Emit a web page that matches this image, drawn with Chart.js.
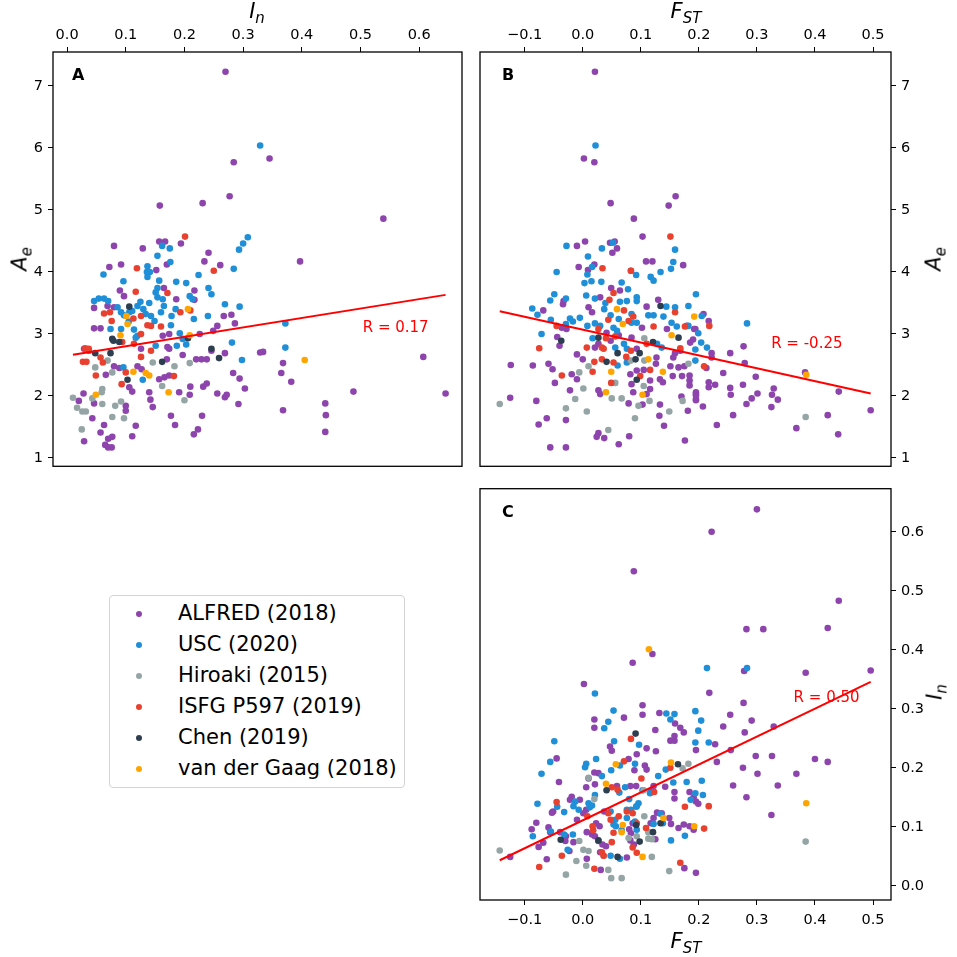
<!DOCTYPE html>
<html>
<head>
<meta charset="utf-8">
<script src="https://cdn.jsdelivr.net/npm/chart.js@4.4.1/dist/chart.umd.min.js"></script>
<style>
  html, body { margin: 0; padding: 0; background: #fff; }
  body { width: 957px; height: 957px; position: relative; overflow: hidden; font-family: "DejaVu Sans", sans-serif; }
  canvas { position: absolute; }
  .atitle { position: absolute; font-style: italic; font-size: 21px; color: #000; white-space: nowrap; transform: translate(-50%, -50%); line-height: 1; }
  .atitle sub { font-size: 15px; vertical-align: -5px; }
  .atitle.rot { transform: translate(-50%, -50%) rotate(-90deg); }
  #legend { position: absolute; left: 109px; top: 595px; width: 294px; height: 191px; border: 1px solid #d4d4d4; border-radius: 4px; background: #fff; }
  .lrow { position: absolute; left: 0; height: 31px; line-height: 31px; font-size: 21px; color: #000; white-space: nowrap; }
  .ldot { position: absolute; left: 26px; top: 13px; width: 6px; height: 6px; border-radius: 50%; }
  .ltext { position: absolute; left: 68px; top: 0; }
</style>
</head>
<body>
<canvas id="chartA" width="480" height="480" style="left:0;top:0;width:480px;height:480px"></canvas>
<canvas id="chartB" width="487" height="480" style="left:470px;top:0;width:487px;height:480px"></canvas>
<canvas id="chartC" width="487" height="482" style="left:470px;top:475px;width:487px;height:482px"></canvas>

<div class="atitle" style="left:257px;top:13px"><span>I</span><sub>n</sub></div>
<div class="atitle" style="left:686px;top:13px"><span>F</span><sub>ST</sub></div>
<div class="atitle rot" style="left:22px;top:259px"><span>A</span><sub>e</sub></div>
<div class="atitle rot" style="left:936px;top:259px"><span>A</span><sub>e</sub></div>
<div class="atitle" style="left:686px;top:943px"><span>F</span><sub>ST</sub></div>
<div class="atitle rot" style="left:937px;top:692px"><span>I</span><sub>n</sub></div>
<div id="legend"></div>

<script>
// Series (legend order) and colours
const seriesNames = ['ALFRED (2018)', 'USC (2020)', 'Hiroaki (2015)', 'ISFG P597 (2019)', 'Chen (2019)', 'van der Gaag (2018)'];
const seriesColors = ['#8e44ad', '#1f8fd8', '#95a5a6', '#e8412f', '#2c3e50', '#ffa500'];

// Tick labels
const inTicks = [0, 0.1, 0.2, 0.3, 0.4, 0.5, 0.6];
const fstTicks = [-0.1, 0, 0.1, 0.2, 0.3, 0.4, 0.5];
const aeTicks = [1, 2, 3, 4, 5, 6, 7];

// Axis limits
const inRange = [-0.024, 0.673];
const fstRange = [-0.177, 0.531];
const aeRange = [0.865, 7.548];

// Panel A: [In, Ae]
const alfredA = [[0.270,7.23],[0.345,5.83],[0.284,5.77],[0.277,5.22],[0.231,5.11],[0.158,5.07],[0.157,4.49],[0.167,4.49],[0.194,4.46],[0.080,4.42],[0.129,4.38],[0.241,4.31],[0.234,4.17],[0.261,4.11],[0.170,4.12],[0.092,4.12],[0.072,4.08],[0.152,4.03],[0.165,3.74],[0.090,3.70],
  [0.217,3.70],[0.186,3.56],[0.217,3.55],[0.097,3.61],[0.069,3.45],[0.080,3.43],[0.267,3.29],[0.280,3.31],[0.286,3.17],[0.256,3.13],[0.046,3.42],[0.046,3.09],[0.057,3.09],[0.163,2.97],[0.174,3.00],[0.226,3.00],[0.249,3.05],[0.126,2.76],[0.171,2.79],[0.174,2.76],[0.197,2.66],[0.246,2.73],[0.269,2.69],[0.329,2.70],[0.029,2.76],[0.037,2.73],[0.170,2.59],[0.220,2.59],[0.229,2.59],[0.238,2.59],[0.080,2.48],[0.089,2.45],[0.120,2.48],[0.127,2.43],[0.066,2.34],[0.283,2.37],[0.294,2.28],[0.303,2.12],[0.157,2.27],[0.166,2.30],[0.174,2.33],[0.106,2.14],[0.111,2.07],[0.028,2.04],[0.020,1.92],[0.046,1.88],[0.100,1.84],[0.100,1.76],[0.140,2.06],[0.142,1.94],[0.146,1.82],[0.191,2.06],[0.209,2.02],[0.210,2.15],[0.232,2.15],[0.238,2.20],[0.256,2.04],[0.269,1.98],[0.272,2.02],[0.292,1.87],[0.043,1.64],[0.177,1.68],[0.230,1.68],[0.063,1.53],[0.117,1.52],[0.184,1.53],[0.057,1.41],[0.223,1.46],[0.216,1.38],[0.077,1.34],[0.070,1.31],[0.111,1.35],[0.029,1.27],[0.065,1.21],[0.070,1.17],[0.076,1.17],
  [0.539,4.86],[0.397,4.17],[0.368,2.53],[0.365,2.37],[0.382,2.23],[0.607,2.63],[0.488,2.07],[0.645,2.04],[0.368,1.77],[0.440,1.88],[0.441,1.69],[0.440,1.42],[0.334,2.71]];
const uscA = [[0.329,6.04],[0.308,4.56],[0.300,4.46],[0.293,4.36],[0.162,4.42],[0.175,4.38],[0.154,4.26],[0.176,4.16],[0.137,4.09],[0.284,4.05],[0.062,3.96],[0.136,4.00],[0.141,4.00],[0.137,3.92],[0.224,3.95],[0.096,3.85],[0.157,3.86],[0.186,3.84],[0.203,3.82],[0.154,3.74],[0.241,3.74],
  [0.151,3.67],[0.154,3.59],[0.163,3.56],[0.209,3.61],[0.214,3.56],[0.246,3.64],[0.046,3.53],[0.054,3.57],[0.063,3.57],[0.070,3.53],[0.269,3.48],[0.294,3.44],[0.086,3.43],[0.092,3.35],[0.097,3.30],[0.106,3.35],[0.111,3.37],[0.134,3.32],[0.143,3.29],[0.149,3.21],[0.160,3.35],[0.178,3.29],[0.216,3.24],[0.240,3.29],[0.074,3.08],[0.092,3.08],[0.114,3.07],[0.120,2.97],[0.151,2.81],[0.177,3.14],[0.192,3.01],[0.197,2.92],[0.203,2.83],[0.117,2.94],[0.187,2.81],[0.281,2.86],[0.298,2.58],[0.096,2.46],[0.129,2.26],
  [0.120,3.45],[0.125,3.52],[0.130,3.40],[0.105,3.20],[0.165,3.45],[0.185,3.40],[0.140,3.50],[0.372,3.17],[0.372,2.78]];
const hiroakiA = [[0.048,2.46],[0.069,2.57],[0.146,2.54],[0.183,2.48],[0.209,2.53],[0.077,2.38],[0.060,2.11],[0.059,2.06],[0.043,1.96],[0.010,1.97],[0.017,1.81],[0.026,1.75],[0.032,1.75],[0.060,1.87],[0.082,1.84],[0.092,1.91],[0.162,2.16],[0.200,1.93],[0.077,1.66],[0.097,1.64],[0.025,1.46]];
const isfgA = [[0.201,4.57],[0.119,4.06],[0.250,4.02],[0.117,3.68],[0.171,3.66],[0.063,3.33],[0.073,3.35],[0.113,3.25],[0.126,3.29],[0.193,3.35],[0.210,3.38],[0.076,3.21],[0.137,3.14],[0.143,3.13],[0.126,3.00],[0.160,3.12],[0.094,2.87],[0.114,2.84],[0.143,2.73],[0.031,2.77],[0.037,2.76],[0.027,2.55],[0.033,2.55],[0.057,2.62],[0.061,2.54],[0.049,2.33],[0.126,2.63],[0.100,2.38],[0.182,2.32],[0.093,2.19]];
const chenA = [[0.106,3.44],[0.206,2.93],[0.077,2.92],[0.079,2.89],[0.089,2.87],[0.246,2.76],[0.048,2.69],[0.074,2.69],[0.162,2.55],[0.259,2.61],[0.103,2.26]];
const gaagA = [[0.101,3.29],[0.103,3.16],[0.206,3.40],[0.209,2.98],[0.091,2.98],[0.113,2.39],[0.134,2.37],[0.140,2.33],[0.049,2.02],[0.173,2.06],[0.405,2.58]];

// Panel B: [FST, Ae]
const alfredB = [[0.021,7.23],[0.002,5.83],[0.020,5.77],[0.048,5.11],[0.160,5.22],[0.148,5.07],[0.088,4.86],[0.103,4.57],[-0.010,4.42],[0.004,4.49],[0.047,4.47],[0.055,4.49],[0.059,4.38],[0.051,4.31],[0.109,4.17],[0.120,4.17],[0.173,4.11],[0.020,4.12],[-0.007,4.08],[0.009,4.03],[0.083,4.02],
  [0.049,3.74],[0.064,3.70],[-0.033,3.53],[-0.034,3.48],[0.030,3.59],[0.130,3.55],[-0.068,3.38],[0.010,3.43],[0.016,3.35],[0.110,3.44],[0.208,3.32],[0.217,3.21],[-0.036,3.10],[-0.028,3.08],[0.041,3.02],[0.102,3.10],[0.145,3.08],[0.179,3.13],[0.194,3.08],[0.190,2.91],[-0.044,2.95],[-0.040,2.81],[0.048,2.89],[0.027,2.84],[0.021,2.78],[0.062,2.98],[0.084,2.94],[0.168,2.73],[0.185,2.86],[0.159,2.69],[0.156,2.62],[-0.010,2.67],[0.000,2.59],[0.093,2.76],[0.127,2.62],[0.126,2.52],[-0.124,2.50],[-0.086,2.49],[-0.059,2.52],[-0.052,2.43],[-0.019,2.35],[-0.010,2.27],[0.151,2.48],[0.165,2.46],[0.175,2.48],[0.082,2.35],[0.093,2.41],[0.105,2.42],[0.133,2.27],[0.138,2.22],[0.155,2.32],[0.171,2.32],[0.184,2.33],[0.184,2.25],[0.184,2.17],[0.217,2.22],[0.217,2.14],[-0.048,2.21],[0.084,2.19],[0.116,2.25],[0.116,2.11],[-0.022,2.09],[0.027,2.09],[0.030,2.03],[0.087,2.06],[0.110,2.03],[0.103,1.86],[0.133,1.86],[0.170,1.99],[0.195,2.03],[0.195,1.95],[0.207,1.83],[-0.125,1.97],[-0.080,1.92],[0.079,1.88],[0.181,1.76],[-0.062,1.64],[-0.029,1.61],[-0.076,1.54],[0.132,1.68],[0.140,1.52],[0.027,1.40],[0.024,1.34],[0.037,1.32],[0.080,1.35],[0.062,1.22],[0.176,1.28],[-0.056,1.17],[-0.029,1.17],
  [0.192,3.08],[0.277,2.80],[0.222,2.69],[0.222,2.62],[0.254,2.69],[0.213,2.45],[0.279,2.53],[0.242,2.37],[0.298,2.31],[0.383,2.38],[0.228,2.18],[0.276,2.18],[0.254,2.13],[0.255,2.02],[0.329,2.12],[0.326,2.02],[0.336,1.94],[0.301,2.04],[0.291,1.96],[0.282,1.87],[0.195,2.06],[0.195,2.01],[0.195,1.93],[0.441,2.07],[0.325,1.82],[0.422,1.69],[0.496,1.77],[0.259,1.69],[0.231,1.53],[0.368,1.48],[0.440,1.38]];
const uscB = [[0.022,6.04],[-0.028,4.42],[0.052,4.47],[0.033,4.38],[0.159,4.36],[0.009,4.25],[0.156,4.16],[0.016,4.08],[-0.045,4.00],[0.152,4.05],[0.134,4.00],[0.092,3.95],[0.008,3.96],[0.117,3.92],[0.122,3.86],[0.015,3.85],[0.032,3.84],[0.067,3.83],[0.003,3.82],
  [0.078,3.72],[-0.049,3.64],[-0.056,3.54],[-0.029,3.57],[0.006,3.62],[0.021,3.57],[0.039,3.50],[0.064,3.52],[0.076,3.53],[0.093,3.59],[0.093,3.53],[0.195,3.64],[-0.087,3.41],[-0.078,3.31],[0.037,3.40],[0.048,3.30],[0.062,3.24],[0.084,3.32],[0.084,3.18],[0.093,3.18],[0.144,3.44],[0.159,3.43],[0.182,3.45],[0.113,3.30],[0.122,3.30],[0.139,3.28],[0.153,3.18],[0.162,3.12],[-0.055,3.23],[-0.029,3.16],[-0.022,3.25],[-0.017,3.20],[-0.005,3.26],[0.008,3.13],[0.021,3.17],[0.030,3.13],[0.053,3.10],[0.059,3.05],[0.182,3.13],[0.199,3.01],[0.204,2.86],[-0.071,3.00],[0.017,2.93],[0.056,2.78],[0.071,2.84],[0.076,2.76],[0.128,2.84],[0.136,2.78],[0.194,2.75],[0.060,2.49],[0.076,2.54],
  [0.205,3.29],[0.283,3.17],[0.214,2.78],[0.194,2.57]];
const hiroakiB = [[0.106,2.93],[0.083,2.57],[0.106,2.57],[-0.006,2.38],[0.010,2.48],[0.182,2.52],[0.001,2.12],[0.056,2.21],[0.105,2.16],[-0.013,1.95],[0.050,1.96],[0.067,1.96],[0.115,1.92],[0.096,1.84],[0.172,1.92],[-0.143,1.87],[-0.029,1.80],[0.007,1.75],[0.149,1.75],[0.090,1.64],[0.044,1.45],[0.384,1.66]];
const isfgB = [[0.151,4.57],[0.034,4.06],[0.083,4.02],[0.053,3.66],[0.046,3.55],[0.071,3.38],[0.159,3.35],[0.087,3.28],[0.079,3.21],[-0.045,3.13],[0.027,3.08],[0.044,3.23],[0.122,3.12],[0.176,3.12],[-0.075,2.77],[0.040,2.93],[0.056,2.96],[0.007,2.78],[0.033,2.78],[0.036,2.76],[0.110,2.84],[0.168,2.77],[0.020,2.55],[0.033,2.59],[0.083,2.73],[0.075,2.63],[0.053,2.54],[-0.036,2.33],[0.017,2.39],[0.209,2.48],[0.116,2.42],[0.099,2.32],[0.049,2.21],[0.218,3.13]];
const chenB = [[0.134,3.45],[-0.037,2.89],[0.027,2.94],[0.121,2.87],[0.165,2.94],[0.041,2.55],[0.060,2.69],[0.091,2.59],[0.098,2.69],[0.093,2.26]];
const gaagB = [[0.059,3.40],[0.192,3.28],[0.069,3.16],[0.153,2.98],[0.113,2.59],[0.049,2.39],[0.138,2.39],[0.040,2.06],[0.103,2.02],[0.385,2.34]];

// Panel C: [FST, In]
const alfredC = [[0.086,0.378],[0.002,0.342],[0.218,0.327],[0.103,0.306],[0.103,0.290],[0.132,0.293],[0.020,0.282],[0.020,0.268],[0.071,0.285],[0.159,0.275],[0.168,0.268],[0.174,0.260],[0.125,0.264],[0.047,0.236],[0.050,0.229],[0.110,0.233],[0.126,0.228],[0.151,0.246],[0.158,0.246],[0.158,0.254],[0.195,0.230],[-0.045,0.216],[0.093,0.223],[0.079,0.215],[0.089,0.196],[0.107,0.204],[0.110,0.197],[0.020,0.192],[0.027,0.191],[0.010,0.182],[-0.041,0.176],[0.021,0.172],[0.006,0.167],[0.059,0.169],[0.082,0.169],[0.092,0.169],[0.122,0.169],[0.117,0.161],[0.142,0.168],[0.158,0.159],[0.158,0.148],[0.184,0.159],[0.191,0.150],[0.195,0.143],[0.199,0.139],[-0.019,0.151],[-0.022,0.146],[-0.005,0.146],[0.006,0.129],[0.001,0.123],[-0.051,0.126],[-0.053,0.124],[-0.010,0.112],[0.023,0.106],[0.029,0.101],[0.037,0.126],[0.086,0.106],[0.080,0.096],[0.083,0.089],[0.122,0.115],[0.117,0.106],[0.128,0.124],[0.136,0.123],[0.149,0.115],[0.152,0.105],[0.125,0.079],[0.174,0.104],[0.184,0.101],[0.191,0.095],[0.165,0.098],[-0.088,0.096],[-0.080,0.107],[-0.059,0.099],[-0.056,0.091],[-0.068,0.073],[-0.076,0.066],[-0.039,0.091],[-0.029,0.084],[-0.030,0.076],[-0.016,0.074],[-0.023,0.059],[0.007,0.091],[0.016,0.087],[0.021,0.084],[0.027,0.076],[0.034,0.070],[0.040,0.067],[0.030,0.057],[0.082,0.077],[0.088,0.070],[-0.062,0.045],[0.076,0.048],[0.007,0.046],[0.031,0.027],[0.175,0.030],[0.195,0.022],[-0.125,0.049],
  [0.300,0.638],[0.222,0.600],[0.088,0.533],[0.441,0.483],[0.282,0.435],[0.311,0.435],[0.422,0.437],[0.120,0.393],[0.278,0.364],[0.384,0.361],[0.496,0.365],
  [0.254,0.290],[0.277,0.310],[0.279,0.260],[0.242,0.270],[0.298,0.220],[0.228,0.240],[0.276,0.200],[0.255,0.230],[0.329,0.270],[0.326,0.220],[0.336,0.170],[0.301,0.190],[0.291,0.280],[0.282,0.150],[0.325,0.120],[0.422,0.210],[0.259,0.170],[0.231,0.210],[0.368,0.190],[0.400,0.215]];
const uscC = [[0.214,0.369],[0.021,0.326],[0.053,0.297],[0.144,0.292],[0.158,0.291],[0.194,0.296],[0.044,0.278],[0.037,0.267],[0.151,0.282],[0.204,0.280],[0.199,0.263],[-0.049,0.245],[0.054,0.245],[0.097,0.239],[0.194,0.243],[0.217,0.243],[-0.056,0.210],[-0.071,0.190],[0.064,0.204],[0.090,0.207],[0.023,0.215],[0.006,0.207],[0.004,0.201],[0.049,0.196],[0.033,0.186],[0.143,0.197],[0.130,0.186],[0.156,0.175],[0.179,0.176],[0.205,0.178],[0.073,0.167],[0.063,0.158],[0.080,0.147],[0.096,0.140],[0.093,0.135],[0.116,0.157],[0.103,0.162],[0.194,0.157],[0.186,0.146],[0.207,0.154],[-0.013,0.143],[-0.016,0.135],[0.010,0.140],[0.016,0.136],[0.012,0.133],[0.021,0.154],[-0.044,0.134],[-0.078,0.139],[-0.032,0.125],[-0.007,0.129],[0.048,0.126],[0.056,0.112],[0.057,0.101],[0.067,0.094],[0.053,0.104],[0.076,0.129],[0.083,0.129],[0.092,0.134],[0.076,0.115],[0.090,0.109],[0.093,0.095],[0.122,0.105],[0.134,0.122],[0.138,0.106],[0.176,0.085],[0.152,0.077],[-0.086,0.084],[-0.055,0.092],[-0.032,0.087],[-0.026,0.061],[-0.017,0.087],[0.048,0.051],[0.064,0.046],[0.283,0.369]];
const hiroakiC = [[0.010,0.183],[0.172,0.199],[0.182,0.207],[0.105,0.162],[0.020,0.147],[0.106,0.118],[0.093,0.084],[0.113,0.091],[0.119,0.079],[-0.006,0.076],[0.001,0.061],[0.079,0.081],[0.113,0.080],[0.010,0.059],[0.036,0.051],[0.119,0.049],[-0.011,0.042],[0.006,0.034],[0.044,0.027],[0.149,0.025],[-0.143,0.060],[-0.029,0.019],[0.049,0.013],[0.067,0.013],[0.384,0.075]];
const isfgC = [[0.083,0.249],[0.071,0.211],[0.151,0.200],[0.101,0.182],[0.050,0.167],[0.060,0.163],[0.123,0.159],[0.176,0.134],[0.217,0.135],[-0.045,0.142],[0.008,0.118],[0.017,0.101],[0.018,0.094],[0.044,0.123],[0.048,0.112],[0.062,0.118],[0.076,0.126],[0.086,0.123],[0.093,0.106],[0.109,0.098],[0.053,0.090],[0.050,0.074],[0.209,0.097],[0.033,0.057],[0.036,0.051],[0.086,0.065],[0.093,0.056],[-0.036,0.051],[0.020,0.029],[0.168,0.039],[-0.075,0.032]];
const chenC = [[0.091,0.258],[0.164,0.206],[0.041,0.162],[0.092,0.103],[0.134,0.106],[0.121,0.091],[0.098,0.075],[-0.038,0.078],[0.027,0.077],[0.060,0.049]];
const gaagC = [[0.114,0.401],[0.057,0.206],[0.152,0.209],[0.040,0.173],[0.069,0.103],[0.067,0.091],[0.139,0.115],[0.192,0.101],[0.103,0.049],[0.385,0.140]];

// Regression fits: intercept, slope, and R
const fitIntercept = [2.65, 3.07, 0.111];
const fitSlope = [1.52, -2.08, 0.473];
const fitR = ['R = 0.17', 'R = -0.25', 'R = 0.50'];

const fmt1 = v => (v < 0 ? '\u2212' : '') + Math.abs(v).toFixed(1);
const fmtInt = v => String(v);

// frame, panel letter and R label
const panelDeco = {
  id: 'panelDeco',
  afterDraw(chart, args, opts) {
    const { ctx, chartArea: a, scales } = chart;
    ctx.save();
    ctx.strokeStyle = '#000';
    ctx.lineWidth = 1.3;
    ctx.strokeRect(a.left, a.top, a.right - a.left, a.bottom - a.top);
    ctx.fillStyle = '#000';
    ctx.font = 'bold 16px "DejaVu Sans"';
    ctx.textAlign = 'left';
    ctx.textBaseline = 'middle';
    ctx.fillText(opts.letter, a.left + opts.letterDx, a.top + 24);
    ctx.fillStyle = '#ff0000';
    ctx.font = '15px "DejaVu Sans"';
    ctx.textAlign = 'center';
    ctx.fillText(opts.rText, scales.x.getPixelForValue(opts.rx), scales.y.getPixelForValue(opts.ry));
    ctx.restore();
  }
};

function axis(position, range, ticks, fmt, size) {
  const horizontal = position === 'top' || position === 'bottom';
  return {
    type: 'linear',
    position: position,
    min: range[0],
    max: range[1],
    afterBuildTicks: s => { s.ticks = ticks.map(v => ({ value: v })); },
    afterFit: s => { if (horizontal) s.height = size; else s.width = size; },
    grid: { display: true, drawOnChartArea: false, drawTicks: true, tickLength: 5, color: '#000', lineWidth: 1 },
    border: { display: false },
    ticks: {
      color: '#000',
      font: { family: 'DejaVu Sans', size: 14.5 },
      padding: position === 'bottom' ? 7 : (horizontal ? 3 : 5),
      maxRotation: 0,
      autoSkip: false,
      callback: v => fmt(v)
    }
  };
}

function makePanel(id, sets, fitIdx, xAxis, yAxis, padding, deco) {
  const datasets = sets.map((pts, i) => ({
    label: seriesNames[i],
    data: pts.map(p => ({ x: p[0], y: p[1] })),
    backgroundColor: seriesColors[i],
    borderWidth: 0,
    pointRadius: 3.3,
    order: seriesNames.length - i
  }));
  const allX = sets.flat().map(p => p[0]);
  const x0 = Math.min(...allX), x1 = Math.max(...allX);
  const b = fitIntercept[fitIdx], m = fitSlope[fitIdx];
  datasets.push({
    label: 'fit',
    data: [{ x: x0, y: b + m * x0 }, { x: x1, y: b + m * x1 }],
    showLine: true,
    borderColor: '#ff0000',
    borderWidth: 2,
    pointRadius: 0,
    order: 0
  });
  return new Chart(document.getElementById(id), {
    type: 'scatter',
    data: { datasets },
    options: {
      responsive: false,
      animation: false,
      layout: { padding },
      plugins: {
        legend: { display: false },
        tooltip: { enabled: false },
        panelDeco: Object.assign({ rText: fitR[fitIdx] }, deco)
      },
      scales: { x: xAxis, y: yAxis }
    },
    plugins: [panelDeco]
  });
}

makePanel('chartA', [alfredA, uscA, hiroakiA, isfgA, chenA, gaagA], 0,
  axis('top', inRange, inTicks, fmt1, 52),
  axis('left', aeRange, aeTicks, fmtInt, 53),
  { left: 0, top: 0, right: 18, bottom: 13 },
  { letter: 'A', letterDx: 19, rx: 0.560, ry: 3.09 });

makePanel('chartB', [alfredB, uscB, hiroakiB, isfgB, chenB, gaagB], 1,
  axis('top', fstRange, fstTicks, fmt1, 52),
  axis('right', aeRange, aeTicks, fmtInt, 66),
  { left: 10, top: 0, right: 0, bottom: 13 },
  { letter: 'B', letterDx: 22, rx: 0.386, ry: 2.84 });

makePanel('chartC', [alfredC, uscC, hiroakiC, isfgC, chenC, gaagC], 2,
  axis('bottom', fstRange, fstTicks, fmt1, 57),
  axis('right', inRange, inTicks, fmt1, 66),
  { left: 10, top: 10, right: 0, bottom: 0 },
  { letter: 'C', letterDx: 22, rx: 0.420, ry: 0.318 });

// legend
const legend = document.getElementById('legend');
seriesNames.forEach((name, i) => {
  const row = document.createElement('div');
  row.className = 'lrow';
  row.style.top = (2 + i * 31) + 'px';
  row.innerHTML = '<span class="ldot" style="background:' + seriesColors[i] + '"></span><span class="ltext">' + name + '</span>';
  legend.appendChild(row);
});
</script>
</body>
</html>
